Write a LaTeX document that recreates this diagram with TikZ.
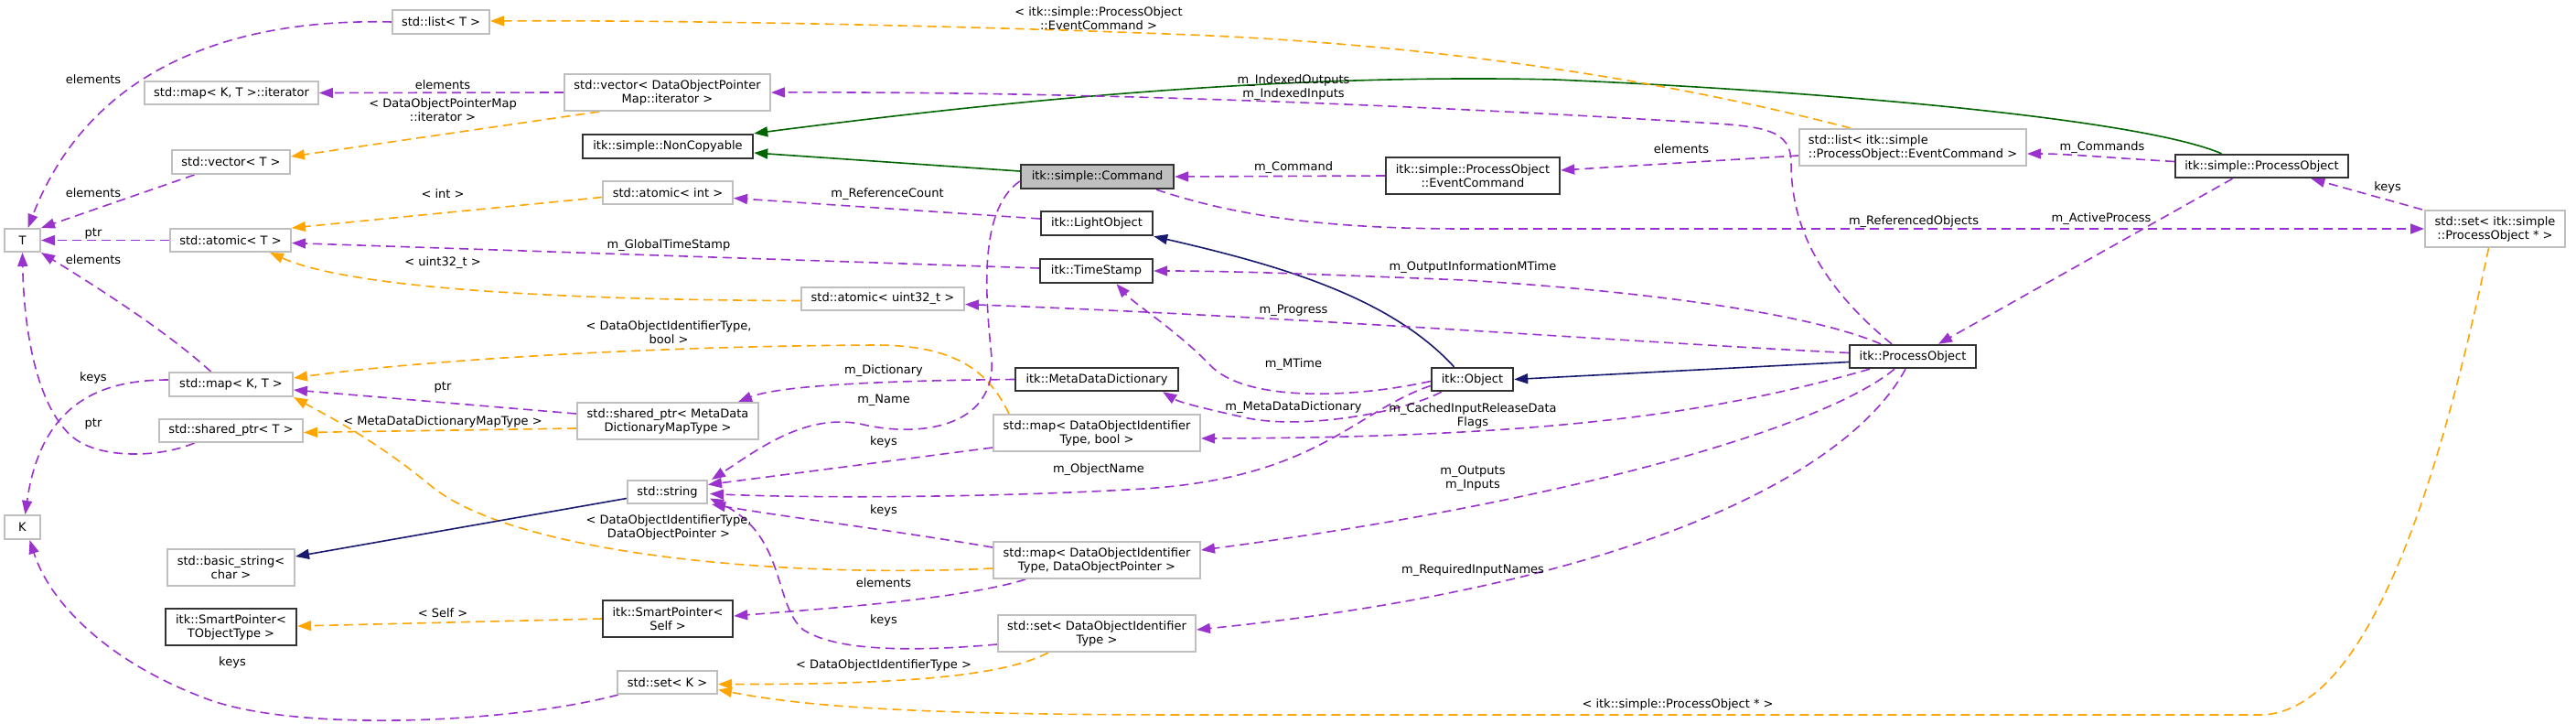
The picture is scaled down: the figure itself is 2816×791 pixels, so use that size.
\documentclass[tikz,border=0pt]{standalone}
\usepackage{fontspec}
\setmainfont{DejaVu Sans}
\usetikzlibrary{arrows.meta,calc}
\definecolor{pe}{HTML}{9A32CD}
\definecolor{oe}{HTML}{FFA500}
\definecolor{ne}{HTML}{191970}
\definecolor{ge}{HTML}{006400}
\definecolor{gb}{HTML}{BFBFBF}
\definecolor{cf}{HTML}{BFBFBF}
\pgfdeclarelayer{bgl}
\pgfdeclarelayer{edges}
\pgfsetlayers{bgl,edges,main}
\begin{document}
\begin{tikzpicture}[x=1pt,y=-1pt,
  every node/.style={font=\fontsize{13pt}{15pt}\selectfont},
  gbox/.style={draw=gb, line width=2pt, fill=white, inner sep=2pt, align=center},
  bbox/.style={draw=black!80, line width=2.4pt, fill=white, inner sep=2pt, align=center},
  lbl/.style={inner sep=0pt, align=center},
  tipA/.style={-{Triangle[length=15pt,width=11pt]}},
  pur/.style={color=pe, line width=1.6pt, dash pattern=on 10pt off 6pt, tipA},
  ora/.style={color=oe, line width=1.6pt, dash pattern=on 10pt off 6pt, tipA},
  nav/.style={color=ne, line width=1.6pt, tipA},
  grn/.style={color=ge, line width=1.6pt, tipA}]
\begin{pgfonlayer}{bgl}
\fill[white] (0,0) rectangle (2816,791);
\end{pgfonlayer}
\useasboundingbox (0,0) rectangle (2816,791);

% ---------- nodes ----------
\node[gbox, minimum width=106pt, minimum height=26pt] (list) at (482,24) {std::list< T >};
\node[gbox, minimum width=190pt, minimum height=25pt] (mapit) at (253,101.5) {std::map< K, T >::iterator};
\node[gbox, minimum width=225pt, minimum height=40pt] (vecdop) at (729.5,101) {std::vector< DataObjectPointer\\Map::iterator >};
\node[bbox, minimum width=186pt, minimum height=26pt] (noncopy) at (730,160) {itk::simple::NonCopyable};
\node[gbox, minimum width=129pt, minimum height=26pt] (vecT) at (252.5,177) {std::vector< T >};
\node[gbox, minimum width=142pt, minimum height=25pt] (atint) at (730,210.5) {std::atomic< int >};
\node[gbox, minimum width=39pt, minimum height=25pt] (T) at (24.5,262.5) {T};
\node[gbox, minimum width=132pt, minimum height=25pt] (atT) at (252,262.5) {std::atomic< T >};
\node[gbox, minimum width=178pt, minimum height=25pt] (atu32) at (965,326.5) {std::atomic< uint32\_t >};
\node[gbox, minimum width=135pt, minimum height=26pt] (mapKT) at (252.5,420) {std::map< K, T >};
\node[gbox, minimum width=157pt, minimum height=25pt] (spT) at (252.5,470.5) {std::shared\_ptr< T >};
\node[gbox, minimum width=198pt, minimum height=40pt] (spMDD) at (730,460) {std::shared\_ptr< MetaData\\DictionaryMapType >};
\node[gbox, minimum width=87pt, minimum height=25pt] (string) at (729.5,537.5) {std::string};
\node[gbox, minimum width=39pt, minimum height=26pt] (K) at (24.5,576) {K};
\node[gbox, minimum width=139pt, minimum height=40pt] (basic) at (252.5,620) {std::basic\_string<\\char >};
\node[bbox, minimum width=143pt, minimum height=40pt] (spTO) at (252.5,685) {itk::SmartPointer<\\TObjectType >};
\node[bbox, minimum width=142pt, minimum height=40pt] (spSelf) at (730,676) {itk::SmartPointer<\\Self >};
\node[gbox, minimum width=109pt, minimum height=25pt] (setK) at (729.5,745.5) {std::set< K >};
\node[bbox, fill=cf, minimum width=167pt, minimum height=26pt] (cmd) at (1199.5,193) {itk::simple::Command};
\node[bbox, minimum width=190pt, minimum height=40pt] (evcmd) at (1610,192) {itk::simple::ProcessObject\\::EventCommand};
\node[bbox, minimum width=122pt, minimum height=26pt] (light) at (1199,244) {itk::LightObject};
\node[bbox, minimum width=123pt, minimum height=26pt] (ts) at (1198.5,296) {itk::TimeStamp};
\node[bbox, minimum width=178pt, minimum height=25pt] (mdd) at (1199,414.5) {itk::MetaDataDictionary};
\node[bbox, minimum width=89pt, minimum height=25pt] (obj) at (1609.5,414.5) {itk::Object};
\node[gbox, minimum width=226pt, minimum height=40pt] (mapbool) at (1199,473) {std::map< DataObjectIdentifier\\Type, bool >};
\node[gbox, minimum width=226pt, minimum height=40pt] (mapdop) at (1199,612) {std::map< DataObjectIdentifier\\Type, DataObjectPointer >};
\node[gbox, minimum width=216pt, minimum height=40pt] (setdoi) at (1199,692) {std::set< DataObjectIdentifier\\Type >};
\node[gbox, align=left, minimum width=248pt, minimum height=40pt] (listec) at (2091,161) {std::list< itk::simple\\::ProcessObject::EventCommand >};
\node[bbox, minimum width=189pt, minimum height=25pt] (spo) at (2472.5,181.5) {itk::simple::ProcessObject};
\node[gbox, minimum width=153pt, minimum height=40pt] (setpo) at (2727.5,250) {std::set< itk::simple\\::ProcessObject * >};
\node[bbox, minimum width=138pt, minimum height=25pt] (ipo) at (2091,389.5) {itk::ProcessObject};

% ---------- labels ----------
\node[lbl] (l1) at (102,87) {elements};
\node[lbl] (l2) at (484,93) {elements};
\node[lbl] (l3) at (484,120) {< DataObjectPointerMap\\::iterator >};
\node[lbl] (l4) at (102,211) {elements};
\node[lbl] (l5) at (484,212) {< int >};
\node[lbl] (l6) at (102,255) {ptr};
\node[lbl] (l7) at (102,284) {elements};
\node[lbl] (l8) at (731,268) {m\_GlobalTimeStamp};
\node[lbl] (l9) at (484,287) {< uint32\_t >};
\node[lbl] (l10) at (731,363) {< DataObjectIdentifierType,\\bool >};
\node[lbl] (l11) at (102,413) {keys};
\node[lbl] (l12) at (102,463) {ptr};
\node[lbl] (l13) at (484,423) {ptr};
\node[lbl] (l14) at (484,461) {< MetaDataDictionaryMapType >};
\node[lbl] (l15) at (731,576) {< DataObjectIdentifierType,\\DataObjectPointer >};
\node[lbl] (l16) at (484,670) {< Self >};
\node[lbl] (l17) at (254,724) {keys};
\node[lbl] (l18) at (966,727) {< DataObjectIdentifierType >};
\node[lbl] (l19) at (1201,20) {< itk::simple::ProcessObject\\::EventCommand >};
\node[lbl] (l20) at (1414,96) {m\_IndexedOutputs\\m\_IndexedInputs};
\node[lbl] (l21) at (1414,183) {m\_Command};
\node[lbl] (l22) at (1838,163) {elements};
\node[lbl] (l23) at (970,212) {m\_ReferenceCount};
\node[lbl] (l24) at (1610,292) {m\_OutputInformationMTime};
\node[lbl] (l25) at (1414,339) {m\_Progress};
\node[lbl] (l26) at (1414,398) {m\_MTime};
\node[lbl] (l27) at (966,405) {m\_Dictionary};
\node[lbl] (l28) at (966,437) {m\_Name};
\node[lbl] (l29) at (1414,445) {m\_MetaDataDictionary};
\node[lbl] (l30) at (1610,454) {m\_CachedInputReleaseData\\Flags};
\node[lbl] (l31) at (966,483) {keys};
\node[lbl] (l32) at (1201,513) {m\_ObjectName};
\node[lbl] (l33) at (966,558) {keys};
\node[lbl] (l34) at (1610,523) {m\_Outputs\\m\_Inputs};
\node[lbl] (l35) at (966,637) {elements};
\node[lbl] (l36) at (1610,623) {m\_RequiredInputNames};
\node[lbl] (l37) at (966,678) {keys};
\node[lbl] (l38) at (1834,770) {< itk::simple::ProcessObject * >};
\node[lbl] (l39) at (2298,161) {m\_Commands};
\node[lbl] (l40) at (2610,205) {keys};
\node[lbl] (l41) at (2092,242) {m\_ReferencedObjects};
\node[lbl] (l42) at (2297,239) {m\_ActiveProcess};

% ---------- edges ----------
\begin{pgfonlayer}{edges}
\draw[pur] (list.west) .. controls (260,20) and (100,70) .. ($(T.north)+(6,0)$);
\draw[pur] (vecdop.west) -- (mapit.east);
\draw[ora] ($(vecdop.south west)+(39,0)$) -- ($(vecT.east)+(0,-6)$);
\draw[pur] ($(vecT.south)+(-40,0)$) -- (T.north east);
\draw[pur] (atT.west) -- (T.east);
\draw[pur] ($(mapKT.north)+(-22,0)$) .. controls (180,360) and (100,310) .. (T.south east);
\draw[pur] ($(spT.south)+(-40,0)$) .. controls (175,500) and (110,502) .. (80,478) .. controls (40,445) and (26,360) .. (T.south);
\draw[pur] ($(mapKT.west)+(0,-5)$) .. controls (110,415) and (45,440) .. ($(K.north)+(3,0)$);
\draw[pur] ($(setK.south west)+(2,0)$) .. controls (560,790) and (330,800) .. (230,765) .. controls (120,725) and (55,660) .. ($(K.south)+(8,0)$);
\draw[ora] ($(atint.west)+(0,5)$) -- (atT.north east);
\draw[ora] ($(atu32.west)+(0,2)$) .. controls (650,328) and (390,318) .. ($(atT.south east)+(-24,0)$);
\draw[pur] ($(ts.west)+(0,-3)$) -- ($(atT.east)+(0,3)$);
\draw[pur] ($(light.west)+(0,-5)$) -- ($(atint.east)+(0,6)$);
\draw[ora] ($(mapbool.north west)+(18,0)$) .. controls (1080,405) and (1045,378) .. (960,377) .. controls (700,378) and (450,395) .. ($(mapKT.east)+(0,-7)$);
\draw[pur] ($(spMDD.west)+(0,-8)$) -- ($(mapKT.east)+(0,6)$);
\draw[ora] ($(mapdop.west)+(0,9)$) .. controls (850,632) and (560,605) .. (470,530) .. controls (410,480) and (350,450) .. (mapKT.south east);
\draw[ora] ($(spMDD.west)+(0,8)$) -- ($(spT.east)+(0,2)$);
\draw[pur] (mdd.west) .. controls (950,416) and (850,422) .. ($(spMDD.north east)+(-23,0)$);
\draw[nav] ($(string.west)+(0,7)$) -- ($(basic.east)+(0,-12)$);
\draw[ora] (spSelf.west) -- ($(spTO.east)+(0,-1)$);
\draw[ora] ($(setdoi.south)+(-53,0)$) .. controls (1100,737) and (1000,748) .. ($(setK.east)+(0,2)$);
\draw[ora] ($(setpo.south)+(-7,0)$) .. controls (2660,560) and (2580,781) .. (2470,781) -- (1300,781) .. controls (1000,781) and (880,772) .. ($(setK.east)+(0,8)$);
\draw[pur] ($(cmd.west)+(0,5)$) .. controls (1068,230) and (1078,330) .. (1084,390) .. controls (1090,470) and (1000,478) .. (940,463) .. controls (880,452) and (830,490) .. ($(string.north east)+(4,0)$);
\draw[pur] ($(mapbool.west)+(0,16)$) -- ($(string.east)+(0,-8)$);
\draw[pur] ($(obj.west)+(0,7)$) .. controls (1480,450) and (1440,522) .. (1250,534) .. controls (1100,543) and (900,545) .. ($(string.east)+(2,2)$);
\draw[pur] ($(mapdop.west)+(0,-14)$) .. controls (980,580) and (860,565) .. ($(string.south east)+(4,0)$);
\draw[pur] ($(setdoi.west)+(0,12)$) .. controls (1000,712) and (915,712) .. (878,688) .. controls (845,660) and (860,585) .. ($(string.east)+(2,7)$);
\draw[pur] ($(mapdop.south west)+(36,0)$) .. controls (1050,655) and (900,665) .. ($(spSelf.east)+(0,-3)$);
\draw[grn] ($(cmd.west)+(0,-6)$) -- ($(noncopy.east)+(0,7)$);
\draw[grn] ($(spo.north)+(-44,0)$) .. controls (2340,130) and (2000,100) .. (1700,87) .. controls (1400,80) and (1100,110) .. (noncopy.north east);
\draw[pur] ($(ipo.north)+(-23,0)$) .. controls (1975,300) and (1958,230) .. (1958,178) .. controls (1958,142) and (1930,138) .. (1860,134) .. controls (1500,112) and (1150,100) .. (vecdop.east);
\draw[ora] ($(listec.north)+(-68,0)$) .. controls (1850,95) and (1600,50) .. (1300,38) .. controls (1000,26) and (700,22) .. ($(list.east)+(0,-1)$);
\draw[pur] ($(listec.west)+(0,9)$) -- ($(evcmd.east)+(0,-6)$);
\draw[pur] (evcmd.west) -- (cmd.east);
\draw[pur] ($(spo.west)+(0,-5)$) .. controls (2300,172) and (2260,168) .. ($(listec.east)+(0,7)$);
\draw[nav] ($(obj.north)+(-20,0)$) .. controls (1520,325) and (1400,290) .. (light.south east);
\draw[pur] ($(ipo.north)+(-35,0)$) .. controls (1980,343) and (1800,318) .. (1600,306) .. controls (1450,300) and (1350,296) .. (ts.east);
\draw[pur] ($(ipo.west)+(0,-4)$) .. controls (1800,375) and (1400,345) .. ($(atu32.east)+(0,6)$);
\draw[pur] ($(obj.west)+(0,2)$) .. controls (1480,435) and (1360,440) .. (1322,398) .. controls (1285,360) and (1240,332) .. ($(ts.south)+(22,0)$);
\draw[pur] ($(obj.south west)+(12,0)$) .. controls (1530,452) and (1420,470) .. (1360,456) .. controls (1320,447) and (1290,440) .. ($(mdd.south east)+(-18,0)$);
\draw[nav] ($(ipo.west)+(0,6)$) -- (obj.east);
\draw[pur] ($(ipo.south)+(-47,0)$) .. controls (1880,450) and (1700,478) .. ($(mapbool.east)+(0,6)$);
\draw[pur] ($(ipo.south)+(-20,0)$) .. controls (1990,470) and (1700,550) .. ($(mapdop.east)+(0,-11)$);
\draw[pur] ($(ipo.south)+(-8,0)$) .. controls (2020,520) and (1780,640) .. ($(setdoi.east)+(0,-4)$);
\draw[pur] ($(cmd.south east)+(-20,0)$) .. controls (1350,236) and (1450,250) .. (1600,250) -- (setpo.west);
\draw[pur] ($(setpo.north west)+(-2,0)$) -- ($(spo.south)+(54,0)$);
\draw[pur] ($(spo.south)+(-32,0)$) -- ($(ipo.north)+(28,0)$);
\end{pgfonlayer}
\end{tikzpicture}
\end{document}
